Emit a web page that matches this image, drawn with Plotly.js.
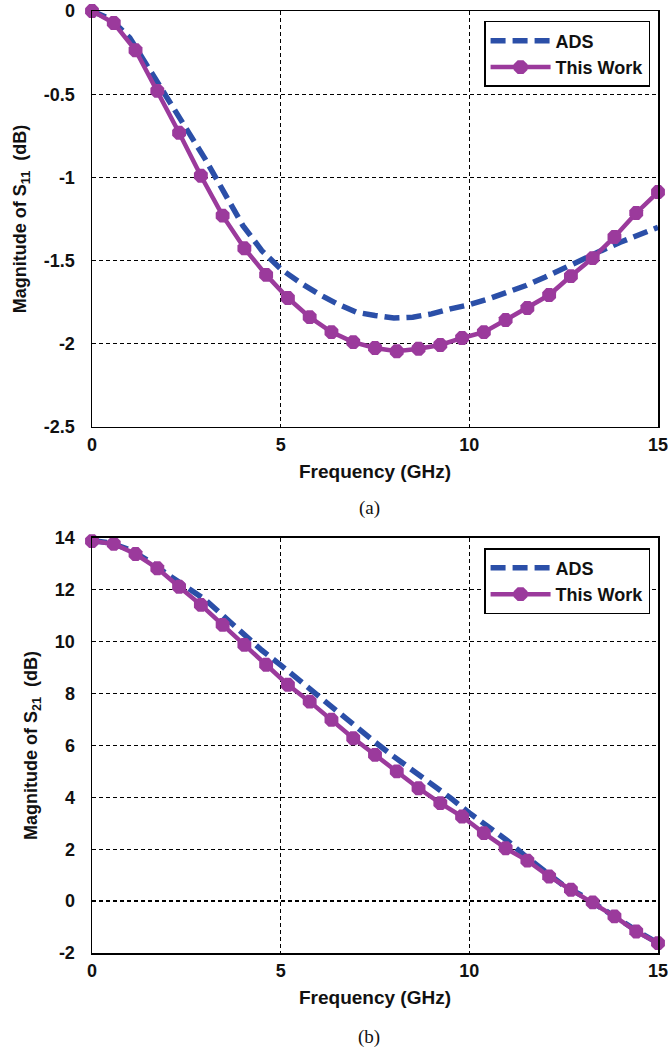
<!DOCTYPE html>
<html><head><meta charset="utf-8">
<script src="https://cdn.plot.ly/plotly-3.0.1.min.js"></script>
<style>html,body{margin:0;padding:0;background:#fff}#chart{width:668px;height:1050px}</style>
</head><body><div id="chart"></div>
<script>
// Frequency points (GHz)
const freqWork = [0, 0.577, 1.154, 1.731, 2.308, 2.885, 3.462, 4.038, 4.615, 5.192, 5.769, 6.346, 6.923, 7.5, 8.077, 8.654, 9.231, 9.808, 10.385, 10.962, 11.538, 12.115, 12.692, 13.269, 13.846, 14.423, 15];
const freqADS = [0, 0.5, 1, 1.5, 2, 2.5, 3, 3.5, 4, 4.5, 5, 5.5, 6, 6.5, 7, 7.5, 8, 8.5, 9, 9.5, 10, 10.5, 11, 11.5, 12, 12.5, 13, 13.5, 14, 14.5, 15];

// (a) S11 magnitude (dB)
const s11ADS = [0, -0.05, -0.16, -0.34, -0.52, -0.71, -0.89, -1.09, -1.29, -1.44, -1.55, -1.63, -1.70, -1.76, -1.81, -1.83, -1.845, -1.84, -1.82, -1.79, -1.765, -1.73, -1.69, -1.65, -1.60, -1.545, -1.49, -1.44, -1.39, -1.345, -1.30];
const s11Work = [0, -0.072, -0.236, -0.48, -0.732, -0.99, -1.23, -1.426, -1.586, -1.725, -1.84, -1.93, -1.99, -2.025, -2.045, -2.03, -2.007, -1.965, -1.93, -1.857, -1.785, -1.707, -1.593, -1.485, -1.358, -1.214, -1.088];

// (b) S21 magnitude (dB)
const s21ADS = [13.9, 13.8, 13.55, 13.12, 12.6, 12.12, 11.62, 10.97, 10.3, 9.67, 9.1, 8.5, 7.9, 7.3, 6.7, 6.13, 5.57, 5.06, 4.55, 3.98, 3.4, 2.9, 2.34, 1.72, 1.16, 0.6, 0.2, -0.28, -0.72, -1.2, -1.62];
const s21Work = [13.88, 13.77, 13.38, 12.83, 12.12, 11.42, 10.65, 9.88, 9.11, 8.34, 7.69, 6.99, 6.28, 5.64, 5.0, 4.35, 3.78, 3.26, 2.62, 2.04, 1.56, 0.95, 0.44, -0.05, -0.59, -1.17, -1.62];

const seriesNames = ['ADS', 'This Work'];
const xTickVals = [0, 5, 10, 15];
const s11TickVals = [-2.5, -2, -1.5, -1, -0.5, 0];
const s11TickText = ['-2.5', '-2', '-1.5', '-1', '-0.5', '0'];
const s21TickVals = [-2, 0, 2, 4, 6, 8, 10, 12, 14];
const s21TickText = ['-2', '0', '2', '4', '6', '8', '10', '12', '14'];
const xTitle = 'Frequency (GHz)';
const s11Title = 'Magnitude of S<sub>11</sub>  (dB)';
const s21Title = 'Magnitude of S<sub>21</sub>  (dB)';
const panelLabels = ['(a)', '(b)'];

const BLUE = '#2B4FA8';
const PURPLE = '#9B3A9C';
const FONT = 'Liberation Sans, Arial, sans-serif';

function adsTrace(y, xa, ya, leg) {
  return {x: freqADS, y: y, xaxis: xa, yaxis: ya, mode: 'lines', name: seriesNames[0],
    legend: leg, showlegend: true,
    line: {color: BLUE, width: 5.5, dash: '15px,7px'}, cliponaxis: false};
}
function workTrace(y, xa, ya, leg) {
  return {x: freqWork, y: y, xaxis: xa, yaxis: ya, mode: 'lines+markers', name: seriesNames[1],
    legend: leg, showlegend: true,
    line: {color: PURPLE, width: 4.5}, marker: {symbol: 'octagon', size: 15, color: PURPLE},
    cliponaxis: false};
}

const data = [
  adsTrace(s11ADS, 'x', 'y', 'legend'),
  workTrace(s11Work, 'x', 'y', 'legend'),
  adsTrace(s21ADS, 'x2', 'y2', 'legend2'),
  workTrace(s21Work, 'x2', 'y2', 'legend2')
];

const tickFont = {family: FONT, size: 18, color: '#111', weight: 700};
const xTitleFont = {family: FONT, size: 19, color: '#111', weight: 700};
const yTitleFont = {family: FONT, size: 18, color: '#111', weight: 700};

function xAxis(anchor) {
  return {anchor: anchor, range: [0, 15], tickvals: xTickVals, ticktext: xTickVals.map(String),
    showgrid: true, gridcolor: '#000', gridwidth: 1.3, griddash: '4px,3px', zeroline: false,
    showline: true, mirror: true, linecolor: '#000', linewidth: 1.5, ticks: '',
    ticklabelstandoff: 1, ticklabeloverflow: 'allow', tickfont: tickFont,
    title: {text: xTitle, font: xTitleFont, standoff: 10}};
}
function yAxis(anchor, domain, range, vals, text, title) {
  return {anchor: anchor, domain: domain, range: range, tickvals: vals, ticktext: text,
    showgrid: true, gridcolor: '#000', gridwidth: 1.3, griddash: '4px,3px', zeroline: false,
    showline: true, mirror: true, linecolor: '#000', linewidth: 1.5, ticks: '',
    ticklabelstandoff: 12, ticklabeloverflow: 'allow', tickfont: tickFont,
    title: {text: title, font: yTitleFont, standoff: 12}};
}
function legendBox(y) {
  return {x: 0.986, xanchor: 'right', y: y, yanchor: 'top', bgcolor: '#fff',
    bordercolor: '#000', borderwidth: 1.5, font: {family: FONT, size: 18, color: '#111', weight: 700},
    itemwidth: 60, tracegroupgap: 0};
}

const layout = {
  width: 668, height: 1050,
  margin: {l: 92, r: 10, t: 11, b: 97},
  paper_bgcolor: '#fff', plot_bgcolor: '#fff',
  showlegend: true,
  xaxis: xAxis('y'),
  yaxis: yAxis('x', [0.5584, 1], [-2.5, 0], s11TickVals, s11TickText, s11Title),
  xaxis2: xAxis('y2'),
  yaxis2: yAxis('x2', [0, 0.4406], [-2, 14], s21TickVals, s21TickText, s21Title),
  legend: legendBox(0.9894),
  legend2: legendBox(0.4299),
  annotations: [
    {text: panelLabels[0], xref: 'paper', yref: 'paper', x: 0.49, y: 0.4724, showarrow: false,
      xanchor: 'center', yanchor: 'middle', font: {family: 'Liberation Serif, Times New Roman, serif', size: 19, color: '#111'}},
    {text: panelLabels[1], xref: 'paper', yref: 'paper', x: 0.49, y: -0.0892, showarrow: false,
      xanchor: 'center', yanchor: 'middle', font: {family: 'Liberation Serif, Times New Roman, serif', size: 19, color: '#111'}}
  ]
};

Plotly.newPlot('chart', data, layout, {staticPlot: true, displayModeBar: false});
</script>
</body></html>
